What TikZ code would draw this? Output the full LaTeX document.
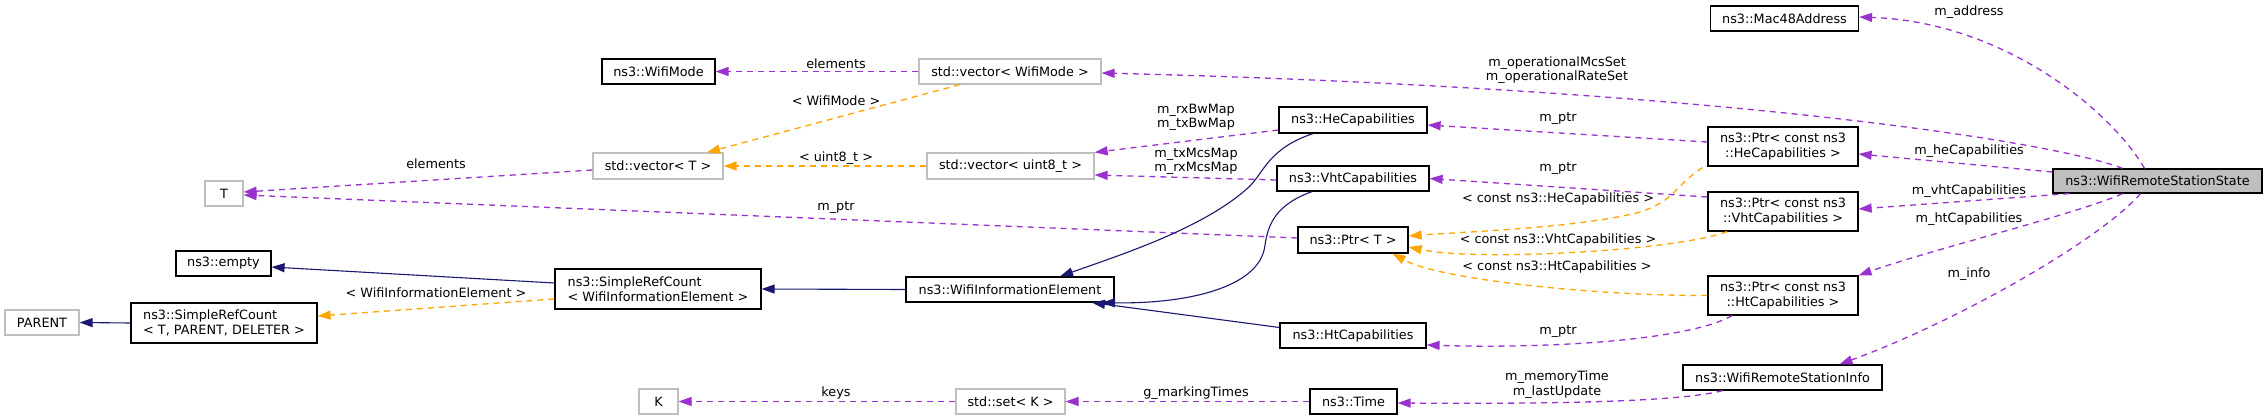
\documentclass[tikz,border=0pt]{standalone}
\usepackage{fontspec}
\setmainfont{DejaVu Sans}
\usetikzlibrary{arrows.meta}
\definecolor{usecol}{RGB}{154,50,205}
\definecolor{tplcol}{RGB}{255,165,0}
\definecolor{inhcol}{RGB}{25,25,112}
\definecolor{greycol}{RGB}{191,191,191}
\begin{document}
\begin{tikzpicture}[x=1pt,y=-1pt,
  every node/.style={font=\fontsize{12.8}{14.5}\selectfont},
  box/.style={draw=black,line width=1.2pt,inner sep=0pt,align=center},
  gbox/.style={draw=greycol,line width=1.2pt,inner sep=0pt,align=center},
  mainbox/.style={draw=black,fill=greycol,line width=1.2pt,inner sep=0pt},
  lbl/.style={inner sep=0pt,align=center},
  tip/.style={-{Triangle[length=13pt,width=9pt]}},
  usel/.style={tip,draw=usecol,line width=1.3pt,dash pattern=on 6pt off 5pt},
  tpll/.style={tip,draw=tplcol,line width=1.3pt,dash pattern=on 6pt off 5pt},
  inhl/.style={tip,draw=inhcol,line width=1.1pt}
]
\fill[white] (0,0) rectangle (2267,420);
\useasboundingbox (0,0) rectangle (2267,420);

% nodes
\node[box,minimum width=148pt,minimum height=25pt] (mac) at (1784.5,18.5) {ns3::Mac48Address};
\node[mainbox,minimum width=209pt,minimum height=24pt] (wrss) at (2157.5,181) {ns3::WifiRemoteStationState};
\node[gbox,minimum width=182pt,minimum height=25pt] (vwm) at (1010,71.5) {std::vector< WifiMode >};
\node[box,minimum width=113pt,minimum height=25pt] (wm) at (658.5,71.5) {ns3::WifiMode};
\node[gbox,minimum width=130pt,minimum height=26pt] (vT) at (658,166) {std::vector< T >};
\node[gbox,minimum width=167pt,minimum height=26pt] (vu8) at (1010.5,166) {std::vector< uint8\_t >};
\node[gbox,minimum width=38pt,minimum height=25pt] (T) at (224,193.5) {T};
\node[box,minimum width=95pt,minimum height=25pt] (empty) at (223.5,263.5) {ns3::empty};
\node[box,minimum width=206pt,minimum height=40pt,align=left] (srcW) at (658,289) {ns3::SimpleRefCount\\< WifiInformationElement >};
\node[gbox,minimum width=74pt,minimum height=25pt] (parent) at (42,322.5) {PARENT};
\node[box,minimum width=186pt,minimum height=40pt,align=left] (srcT) at (224,323) {ns3::SimpleRefCount\\< T, PARENT, DELETER >};
\node[gbox,minimum width=39pt,minimum height=25pt] (K) at (658.5,401.5) {K};
\node[box,minimum width=208pt,minimum height=25pt] (wie) at (1010,289.5) {ns3::WifiInformationElement};
\node[gbox,minimum width=109pt,minimum height=25pt] (set) at (1010.5,401.5) {std::set< K >};
\node[box,minimum width=148pt,minimum height=26pt] (he) at (1353,120) {ns3::HeCapabilities};
\node[box,minimum width=152pt,minimum height=25pt] (vht) at (1353,178.5) {ns3::VhtCapabilities};
\node[box,minimum width=110pt,minimum height=26pt] (ptrT) at (1353,240) {ns3::Ptr< T >};
\node[box,minimum width=146pt,minimum height=25pt] (ht) at (1353,335.5) {ns3::HtCapabilities};
\node[box,minimum width=87pt,minimum height=25pt] (time) at (1353.5,401.5) {ns3::Time};
\node[box,minimum width=150pt,minimum height=39pt] (pHe) at (1783,146.5) {ns3::Ptr< const ns3\\::HeCapabilities >};
\node[box,minimum width=150pt,minimum height=39pt] (pVht) at (1783,211.5) {ns3::Ptr< const ns3\\::VhtCapabilities >};
\node[box,minimum width=150pt,minimum height=39pt] (pHt) at (1783,295.5) {ns3::Ptr< const ns3\\::HtCapabilities >};
\node[box,minimum width=199pt,minimum height=25pt] (info) at (1782.5,377.5) {ns3::WifiRemoteStationInfo};

% usage edges (purple)
\draw[usel] ([xshift=-13pt]wrss.north) .. controls (2112,112) and (2005,22) .. ([yshift=1.5pt]mac.east);
\node[lbl] (l1) at (1969,12) {m\_address};
\draw[usel] ([xshift=-35pt]wrss.north) .. controls (2050,140) and (1700,88) .. ([yshift=-1.5pt]vwm.east);
\node[lbl] (l2) at (1557,70) {m\_operationalMcsSet\\m\_operationalRateSet};
\draw[usel] ([yshift=9pt]wrss.west) -- ([yshift=-7.5pt]pHe.east);
\node[lbl] (l3) at (1969,151) {m\_heCapabilities};
\draw[usel] ([xshift=17pt]wrss.south west) -- ([yshift=2.5pt]pVht.east);
\node[lbl] (l4) at (1969,191) {m\_vhtCapabilities};
\draw[usel] ([xshift=-35pt]wrss.south) .. controls (2080,213) and (1930,250) .. (pHt.north east);
\node[lbl] (l5) at (1969,219) {m\_htCapabilities};
\draw[usel] ([xshift=-17pt]wrss.south) .. controls (2100,240) and (1960,320) .. ([xshift=57pt]info.north);
\node[lbl] (l6) at (1969,274) {m\_info};
\draw[usel] ([yshift=4.5pt]pHe.west) -- ([yshift=-5pt]he.east);
\node[lbl] (l7) at (1558,119) {m\_ptr};
\draw[usel] ([yshift=14.5pt]pVht.west) -- (vht.east);
\node[lbl] (l8) at (1558,169) {m\_ptr};
\draw[usel] ([xshift=-51pt]pHt.south) .. controls (1690,340) and (1550,349) .. ([yshift=-9.5pt]ht.east);
\node[lbl] (l9) at (1558,332) {m\_ptr};
\draw[usel] ([xshift=-60pt]info.south) .. controls (1680,402) and (1550,404) .. ([yshift=-1.5pt]time.east);
\node[lbl] (l10) at (1557,384.5) {m\_memoryTime\\m\_lastUpdate};
\draw[usel] (time.west) -- (set.east);
\node[lbl] (l11) at (1196,393) {g\_markingTimes};
\draw[usel] (set.west) -- (K.east);
\node[lbl] (l12) at (836,393) {keys};
\draw[usel] (vwm.west) -- (wm.east);
\node[lbl] (l13) at (836,64) {elements};
\draw[usel] ([yshift=-10pt]he.west) -- (vu8.north east);
\node[lbl] (l14) at (1196,117.5) {m\_rxBwMap\\m\_txBwMap};
\draw[usel] ([yshift=-1.5pt]vht.west) -- ([yshift=-9pt]vu8.east);
\node[lbl] (l15) at (1196,161.5) {m\_txMcsMap\\m\_rxMcsMap};
\draw[usel] ([yshift=2pt]ptrT.west) -- ([yshift=-1.5pt]T.east);
\node[lbl] (l16) at (836,208) {m\_ptr};
\draw[usel] ([yshift=-4pt]vT.west) -- ([yshift=1.5pt]T.east);
\node[lbl] (l17) at (436,164) {elements};

% template edges (orange)
\draw[tpll] ([xshift=-50pt]vwm.south) -- ([xshift=49pt]vT.north);
\node[lbl] (l18) at (836,101) {< WifiMode >};
\draw[tpll] (vu8.west) -- (vT.east);
\node[lbl] (l19) at (836,158) {< uint8\_t >};
\draw[tpll] ([xshift=-5pt,yshift=-1pt]pHe.south west) .. controls (1672,188) and (1676,200) .. (1640,212) .. controls (1580,228) and (1460,232) .. ([yshift=4pt]ptrT.east);
\node[lbl] (l20) at (1558,199) {< const ns3::HeCapabilities >};
\draw[tpll] ([xshift=-56pt]pVht.south) .. controls (1680,250) and (1480,262) .. ([yshift=-7pt]ptrT.east);
\node[lbl] (l21) at (1558,240) {< const ns3::VhtCapabilities >};
\draw[tpll] (pHt.west) .. controls (1600,296) and (1440,280) .. ([xshift=-16pt]ptrT.south east);
\node[lbl] (l22) at (1557,267) {< const ns3::HtCapabilities >};
\draw[tpll] ([yshift=-10pt]srcW.west) -- ([yshift=7pt]srcT.east);
\node[lbl] (l23) at (436,293) {< WifiInformationElement >};

% inheritance edges (navy)
\draw[inhl] ([yshift=6pt]srcW.west) -- ([yshift=-3.5pt]empty.east);
\draw[inhl] (srcT.west) -- (parent.east);
\draw[inhl] (wie.west) -- (srcW.east);
\draw[inhl] ([xshift=-40pt]he.south) .. controls (1270,148) and (1265,170) .. (1250,186) .. controls (1205,228) and (1120,255) .. ([xshift=50pt]wie.north);
\draw[inhl] ([xshift=-41pt]vht.south) .. controls (1275,205) and (1268,225) .. (1265,245) .. controls (1260,290) and (1180,304) .. ([xshift=92pt]wie.south);
\draw[inhl] ([yshift=8pt]ht.west) -- ([xshift=82pt]wie.south);
\end{tikzpicture}
\end{document}
